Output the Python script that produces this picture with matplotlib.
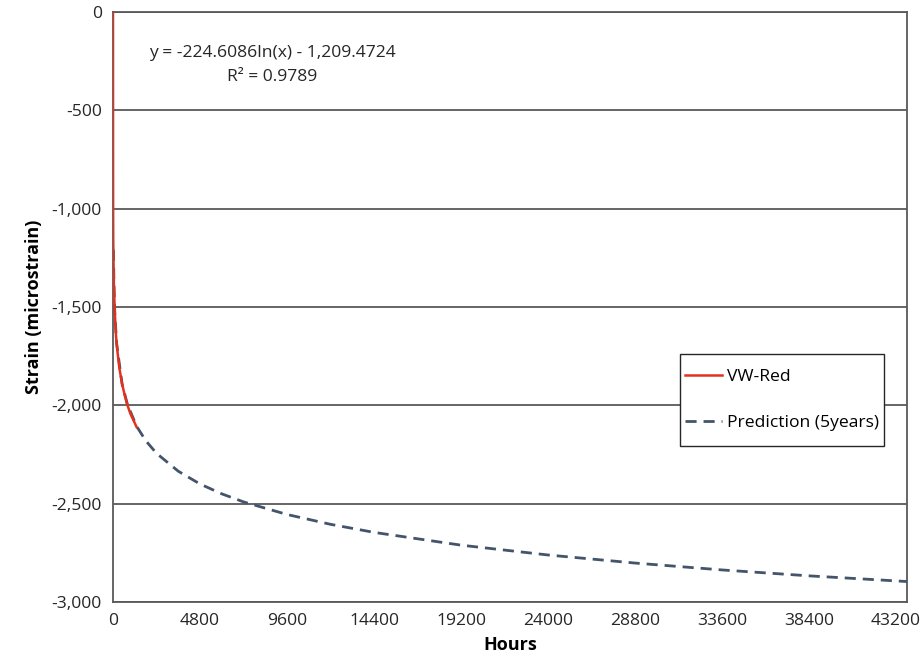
import numpy as np
import matplotlib
matplotlib.use("Agg")
from matplotlib import pyplot as plt
from matplotlib.patches import Rectangle

# measured strain, VW-Red gauge (hours, microstrain)
vw_hours = [0, 1, 3, 6, 12, 24, 48, 96, 168, 250, 350, 500, 650, 800, 950, 1100, 1300]
vw_strain = [0, -280, -700, -1000, -1150, -1250, -1380, -1520, -1650, -1730,
             -1810, -1890, -1950, -2000, -2040, -2070, -2110]

# log trend extended to 5 years
pred_hours = [24, 50, 100, 200, 500, 800, 1300, 1800, 2400, 3600, 4800, 6000, 7200,
              9600, 12000, 14400, 19200, 24000, 28800, 33600, 38400, 43800]
pred_strain = [-1209, -1374, -1530, -1686, -1891, -1997, -2106, -2179, -2244, -2335,
               -2400, -2450, -2491, -2555, -2605, -2646, -2711, -2761, -2802, -2837,
               -2867, -2896]

x_ticks = [0, 4800, 9600, 14400, 19200, 24000, 28800, 33600, 38400, 43200]
y_ticks = [0, -500, -1000, -1500, -2000, -2500, -3000]

eq_text = "y = -224.6086ln(x) - 1,209.4724"
r2_text = "R\u00b2 = 0.9789"

plt.rcParams['font.family'] = ['Open Sans', 'DejaVu Sans']
grid_col = '#595959'
fs = 12.6

fig = plt.figure(figsize=(9.23, 6.65), dpi=100)
ax = fig.add_axes([113 / 923, 1 - 602 / 665, 794 / 923, 590 / 665])

ax.plot(pred_hours, pred_strain, color='#44546A', lw=2.0, dashes=(4, 2.5),
        label='Prediction (5years)', zorder=3)
ax.plot(vw_hours, vw_strain, color='#E2321E', lw=1.8, label='VW-Red', zorder=4)

ax.set_xlim(0, 43800)
ax.set_ylim(-3000, 0)
ax.set_xticks(x_ticks)
ax.set_xticklabels([str(t) for t in x_ticks])
ax.set_yticks(y_ticks)
ax.set_yticklabels([f"{t:,}" for t in y_ticks])
ax.tick_params(length=0, labelsize=fs, colors='#262626', pad=8)
ax.yaxis.grid(True, color=grid_col, lw=1.3)
ax.set_axisbelow(True)
for s in ax.spines.values():
    s.set_color(grid_col)
    s.set_linewidth(1.3)

ax.set_xlabel('Hours', fontsize=13, fontweight='bold', labelpad=5)
ax.set_ylabel('Strain (microstrain)', fontsize=13, fontweight='bold', labelpad=6)

ax.text(8770, -208, eq_text, ha='center', va='center', fontsize=fs, color='#262626')
ax.text(8770, -330, r2_text, ha='center', va='center', fontsize=fs, color='#262626')

# legend box drawn separately so it can be taller than the entries need
box = Rectangle((0.714, 0.264), 0.257, 0.156, transform=ax.transAxes,
                facecolor='white', edgecolor='#262626', lw=1.0, zorder=5)
ax.add_patch(box)
h, l = ax.get_legend_handles_labels()
leg = ax.legend(h[::-1], l[::-1], loc='center', bbox_to_anchor=(0.8425, 0.342),
                fontsize=fs, frameon=False, labelspacing=1.7, handlelength=2.1,
                handletextpad=0.25, borderpad=0, borderaxespad=0)
leg.set_zorder(6)

fig.savefig('out.png', dpi=100)
